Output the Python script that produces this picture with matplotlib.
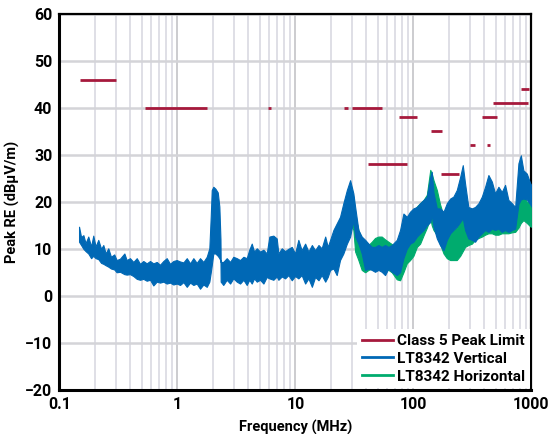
import matplotlib
matplotlib.use('Agg')
import matplotlib.pyplot as plt
from matplotlib.lines import Line2D

plt.rcParams['font.family'] = ['Roboto', 'DejaVu Sans']

# Class 5 peak limit segments: (start MHz, stop MHz, level dBuV/m)
limit_start = [0.15, 0.53, 5.9, 26, 30, 41, 76, 142, 171, 300, 420, 380, 470, 820]
limit_stop = [0.30, 1.8, 6.2, 28, 54, 88, 108, 175, 245, 330, 450, 512, 944, 960]
limit_level = [46, 40, 40, 40, 40, 28, 38, 35, 26, 32, 32, 38, 41, 44]

# LT8342 vertical: upper/lower edge of the noisy trace
vert_f = [0.147, 0.153, 0.160, 0.167, 0.176, 0.186, 0.194, 0.203, 0.214, 0.226,
          0.236, 0.247, 0.260, 0.274, 0.292, 0.306, 0.327, 0.356, 0.372, 0.397,
          0.424, 0.453, 0.483, 0.515, 0.550, 0.587, 0.626, 0.669, 0.713, 0.761,
          0.813, 0.867, 0.925, 0.988, 1.054, 1.125, 1.202, 1.282, 1.367, 1.459,
          1.557, 1.661, 1.775, 1.867, 1.92, 1.957, 2.018, 2.10, 2.20, 2.27,
          2.32, 2.33, 2.45, 2.62, 2.80, 2.98, 3.19, 3.40, 3.63, 3.87,
          4.07, 4.27, 4.47, 4.71, 5.02, 5.36, 5.72, 6.02, 6.51, 6.95,
          7.18, 7.67, 8.18, 8.73, 9.32, 9.94, 10.6, 11.3, 12.1, 12.9,
          13.8, 14.7, 15.7, 16.7, 17.9, 18.8, 19.7, 21.0, 22.4, 23.9,
          25.5, 27.3, 29.1, 31.0, 32.1, 34.2, 36.5, 39.0, 41.6, 44.4,
          47.3, 50.5, 53.9, 57.5, 61.4, 65.6, 72.3, 77.1, 82.3, 87.9,
          93.7, 100, 107, 114, 122, 130, 139, 143, 148, 158,
          168, 180, 192, 205, 218, 233, 249, 262, 274, 292,
          313, 333, 356, 380, 405, 432, 462, 492, 525, 561,
          598, 638, 682, 728, 776, 813, 855, 914, 975, 1000]
vert_hi = [14.7, 12.5, 12.9, 11.2, 12.6, 10.5, 12.8, 10.5, 11.9, 10.0,
           10.8, 9.0, 10.1, 8.3, 8.8, 7.6, 7.9, 9.0, 7.6, 8.0,
           7.2, 8.0, 6.8, 7.4, 6.9, 7.4, 6.9, 7.2, 6.6, 7.4,
           8.0, 6.8, 7.4, 7.6, 7.3, 7.1, 8.0, 6.9, 8.0, 7.0,
           8.0, 7.2, 8.3, 10.1, 17.0, 22.5, 23.2, 22.8, 22.0, 19.0,
           12.0, 7.2, 7.2, 8.0, 7.2, 8.3, 8.0, 7.6, 8.3, 8.0,
           9.8, 11.1, 9.4, 10.1, 9.4, 9.8, 9.0, 12.6, 12.8, 12.2,
           9.0, 10.1, 9.5, 10.0, 10.4, 9.0, 11.9, 9.7, 11.1, 9.4,
           10.8, 9.7, 10.8, 10.1, 12.6, 10.4, 11.9, 14.0, 15.4, 16.8,
           19.7, 22.5, 24.6, 21.8, 18.9, 14.0, 12.6, 11.9, 11.1, 10.4,
           10.4, 10.8, 10.4, 10.8, 10.4, 10.8, 11.9, 14.0, 17.5, 16.8,
           17.9, 18.6, 18.9, 19.7, 20.4, 21.1, 25.3, 26.4, 22.0, 18.6,
           18.6, 17.9, 19.7, 20.7, 21.1, 22.5, 25.3, 27.8, 23.9, 18.9,
           18.6, 18.9, 19.7, 21.1, 23.2, 25.7, 24.3, 21.8, 23.2, 22.1,
           23.6, 20.4, 19.7, 18.9, 28.2, 29.9, 26.7, 26.0, 24.0, 23.5]
vert_lo = [11.5, 10.8, 10.0, 9.5, 9.0, 8.0, 8.5, 8.0, 7.8, 7.0,
           6.8, 6.5, 6.2, 5.8, 5.6, 5.0, 5.1, 4.6, 4.5, 4.6,
           4.2, 3.6, 3.4, 3.6, 3.2, 3.4, 2.2, 3.0, 2.8, 3.0,
           2.6, 2.8, 2.4, 2.6, 2.3, 2.9, 1.9, 2.8, 2.3, 2.6,
           1.5, 2.4, 1.9, 3.0, 5.0, 6.5, 9.0, 9.0, 8.5, 8.0,
           7.5, 3.0, 2.3, 3.4, 2.6, 3.7, 3.0, 2.6, 3.4, 2.3,
           3.4, 2.6, 3.7, 3.0, 3.4, 2.6, 4.0, 3.7, 3.4, 4.1,
           3.4, 4.1, 3.7, 4.4, 3.3, 4.2, 3.7, 4.4, 2.6, 3.7,
           1.9, 4.0, 3.3, 4.4, 3.0, 4.0, 5.5, 5.8, 4.4, 7.6,
           9.0, 11.1, 12.6, 16.1, 12.6, 11.1, 9.0, 5.5, 5.8, 5.5,
           5.1, 5.5, 5.1, 4.4, 5.8, 5.1, 4.4, 5.0, 8.0, 10.0,
           11.1, 11.5, 12.6, 13.3, 14.0, 15.0, 15.7, 17.2, 14.7, 12.2,
           10.8, 9.7, 11.9, 13.3, 14.0, 14.7, 15.7, 16.5, 14.0, 12.2,
           11.9, 11.5, 12.6, 13.3, 14.0, 13.6, 14.3, 14.0, 14.3, 13.6,
           14.0, 13.6, 14.0, 14.3, 19.5, 20.5, 20.7, 20.5, 19.5, 19.0]

# LT8342 horizontal: mostly hidden behind the vertical trace
horz_f = [30.0, 31.0, 32.1, 34.2, 36.5, 39.0, 41.6, 44.4, 47.3, 50.5,
          53.9, 57.5, 61.4, 65.6, 72.3, 77.1, 82.3, 87.9, 93.7, 100,
          107, 114, 122, 130, 139, 143, 148, 158, 168, 180,
          192, 205, 218, 233, 249, 262, 274, 292, 313, 333,
          356, 380, 405, 432, 462, 492, 525, 561, 598, 638,
          682, 728, 776, 813, 855, 914, 975, 1000]
horz_hi = [22.0, 21.0, 17.0, 14.0, 12.0, 11.0, 10.8, 11.5, 12.3, 12.6,
           12.6, 12.0, 11.5, 11.0, 10.0, 12.0, 14.0, 16.0, 17.0, 18.0,
           19.0, 19.7, 20.4, 21.5, 26.8, 26.0, 24.6, 22.5, 19.5, 17.0,
           14.0, 14.5, 14.0, 14.5, 16.0, 18.0, 18.0, 17.0, 17.5, 18.0,
           19.0, 20.0, 22.0, 23.5, 21.0, 18.0, 18.0, 19.0, 18.0, 18.5,
           18.0, 18.5, 21.0, 22.0, 21.5, 20.0, 20.0, 20.0]
horz_lo = [15.0, 14.0, 9.4, 7.6, 5.5, 5.0, 5.5, 5.8, 6.0, 6.0,
           6.0, 5.5, 5.5, 5.0, 3.5, 3.3, 5.0, 6.9, 7.6, 8.5,
           10.4, 11.1, 12.9, 14.5, 16.5, 15.0, 14.0, 13.0, 11.0, 9.0,
           8.0, 7.6, 7.6, 7.6, 8.5, 9.5, 10.4, 10.8, 11.1, 11.9,
           12.3, 12.6, 13.0, 13.3, 13.3, 13.0, 13.0, 13.3, 13.3, 13.3,
           13.5, 13.6, 14.5, 15.5, 16.1, 15.5, 14.8, 14.7]

red = '#a6193c'
blue = '#0068b5'
green = '#00ab6e'

fig = plt.figure(figsize=(5.49, 4.34), dpi=100)
ax = fig.add_axes([0.108, 0.102, 0.860, 0.866])

ax.fill_between(horz_f, horz_lo, horz_hi, color=green, lw=0.8, zorder=3)
ax.fill_between(vert_f, vert_lo, vert_hi, color=blue, lw=0.8, zorder=4)

for f0, f1, lvl in zip(limit_start, limit_stop, limit_level):
    ax.plot([f0, f1], [lvl, lvl], color=red, lw=2, solid_capstyle='butt', zorder=5)

ax.set_xscale('log')
ax.set_xlim(0.1, 1000)
ax.set_ylim(-20, 60)
ax.set_yticks(range(-20, 61, 10))
ax.set_yticklabels(['\u221220', '\u221210', '0', '10', '20', '30', '40', '50', '60'])
ax.set_xticks([0.1, 1, 10, 100, 1000])
ax.set_xticklabels(['0.1', '1', '10', '100', '1000'])
ax.minorticks_on()
ax.yaxis.set_minor_locator(matplotlib.ticker.NullLocator())
ax.tick_params(which='both', length=0, labelsize=11.5, pad=5)
for lab in ax.get_xticklabels() + ax.get_yticklabels():
    lab.set_fontweight('bold')

ax.grid(True, which='major', axis='x', color='#c8c8cc', lw=1.3, zorder=0)
ax.grid(True, which='minor', axis='x', color='#dcdce4', lw=1.3, zorder=0)
ax.grid(True, which='major', axis='y', color='#d4d4d8', lw=1.8, zorder=0)
ax.set_axisbelow(True)

for side in ['left', 'bottom']:
    ax.spines[side].set_linewidth(2.2)
for side in ['top', 'right']:
    ax.spines[side].set_linewidth(1.6)

ax.set_xlabel('Frequency (MHz)', fontsize=10.5, fontweight='bold', labelpad=6)
ax.set_ylabel('Peak RE (dB\u00b5V/m)', fontsize=10.5, fontweight='bold', labelpad=4)

handles = [Line2D([], [], color=red, lw=2),
           Line2D([], [], color=blue, lw=2),
           Line2D([], [], color=green, lw=2)]
leg = ax.legend(handles, ['Class 5 Peak Limit', 'LT8342 Vertical', 'LT8342 Horizontal'],
                loc='lower right', fancybox=False, framealpha=1, edgecolor='none',
                prop={'weight': 'bold', 'size': 11}, handlelength=2.0,
                handletextpad=0.3, labelspacing=0.25, borderaxespad=0.1,
                borderpad=0.3)
leg.set_zorder(10)

fig.savefig('out.png', dpi=100)
